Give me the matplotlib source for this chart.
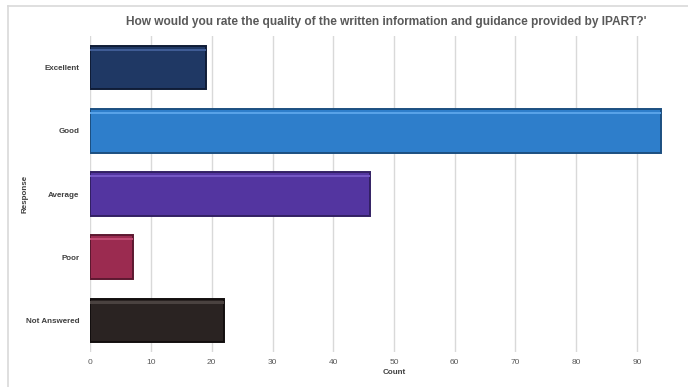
import numpy as np
import matplotlib.pyplot as plt
from matplotlib.lines import Line2D

plt.rcParams['font.family'] = ['Liberation Sans Narrow', 'Liberation Sans', 'DejaVu Sans']

# survey responses
categories = ['Excellent', 'Good', 'Average', 'Poor', 'Not Answered']
counts = [19, 94, 46, 7, 22]
colors = ['#1f3864', '#2e7ecb', '#5335a0', '#9b2b50', '#2a2322']
edges = ['#0f1c36', '#1c4f80', '#322063', '#5c1830', '#120e0e']
shines = ['#3f5c95', '#58a2e8', '#7457c4', '#c04a72', '#4a4240']
xticks = [0, 10, 20, 30, 40, 50, 60, 70, 80, 90]

fig = plt.figure(figsize=(6.88, 3.87), dpi=100)
ax = fig.add_axes([0.1313, 0.0904, 0.8826, 0.8165])

y = np.arange(len(categories))
h = 0.69
ax.barh(y, counts, height=h, color=colors, edgecolor=edges, linewidth=1.4, zorder=3)
# lighter strip along the top of each bar
ax.barh(y - h / 2 + 0.06, counts, height=0.035, color=shines, linewidth=0, zorder=4)

ax.set_xlim(0, 100)
ax.set_ylim(len(categories) - 0.5, -0.5)
ax.set_yticks(y)
ax.set_yticklabels(categories, fontsize=5.8, fontweight='bold', color='#404040')
ax.set_xticks(xticks + [100])
ax.set_xticklabels([str(t) for t in xticks] + [''], fontsize=6.0, color='#595959')
ax.tick_params(axis='x', length=0, pad=5)
ax.tick_params(axis='y', length=0, pad=8)
ax.grid(axis='x', color='#d9d9d9', linewidth=1.0, zorder=0)
for s in ax.spines.values():
    s.set_visible(False)

ax.set_xlabel('Count', fontsize=5.8, fontweight='bold', color='#404040', labelpad=2)
fig.text(0.036, 0.498, 'Response', rotation=90, ha='center', va='center',
         fontsize=5.8, fontweight='bold', color='#404040')
fig.text(0.561, 0.943, "How would you rate the quality of the written information and guidance provided by IPART?'",
         ha='center', va='center', fontsize=8.6, fontweight='bold', color='#595959')

# chart frame
fig.add_artist(Line2D([0.0116, 0.0116], [0.0, 0.985], color='#d9d9d9', linewidth=1.2))
fig.add_artist(Line2D([0.0116, 1.0], [0.985, 0.985], color='#d9d9d9', linewidth=1.2))

fig.savefig('out.png', dpi=100)
